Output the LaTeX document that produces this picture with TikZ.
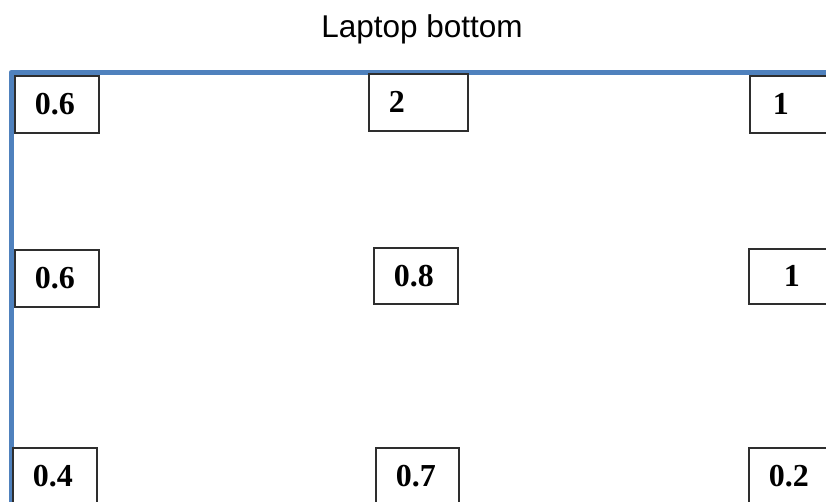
\documentclass[tikz,border=0pt]{standalone}
\usepackage{fontspec}
\setmainfont{Liberation Serif}
\newfontfamily\titlefont{Liberation Sans}
\definecolor{frameblue}{HTML}{4F81BD}
\definecolor{boxgray}{HTML}{2E2E2E}
\begin{document}
\begin{tikzpicture}[x=1pt,y=-1pt,
  numbox/.style={draw=boxgray, line width=1.6pt, fill=white, anchor=north west,
    inner xsep=20pt, inner ysep=0pt, minimum height=57pt, align=left,
    font=\fontsize{32}{32}\selectfont\bfseries},
  frame/.style={draw=frameblue, line width=5pt, line join=round, line cap=butt},
  titlestyle/.style={font=\titlefont\fontsize{31.5}{32}\selectfont, inner sep=0pt}]
\useasboundingbox (0,0) rectangle (826,502);
\clip (0,0) rectangle (826,502);
\fill[white] (0,0) rectangle (826,502);
\node[titlestyle] (title) at (422,29) {Laptop bottom};
\coordinate (fbl) at (11,510);
\coordinate (ftl) at (11,72.5);
\coordinate (ftr) at (840,72.5);
\draw[frame] (fbl) -- (ftl) -- (ftr);
% row 1
\node[numbox, text width=44pt] (a1) at (14,75) {0.6};
\node[numbox, text width=59pt] (a2) at (368,73) {2};
\node[numbox, text width=60pt, inner xsep=23pt] (a3) at (749,75) {1};
% row 2
\node[numbox, text width=44pt] (b1) at (14,249) {0.6};
\node[numbox, text width=44pt, minimum height=56pt] (b2) at (373,247) {0.8};
\node[numbox, text width=50pt, inner xsep=35pt, minimum height=55pt] (b3) at (748,248) {1};
% row 3
\node[numbox, text width=44pt] (c1) at (12,447) {0.4};
\node[numbox, text width=43pt] (c2) at (375,447) {0.7};
\node[numbox, text width=60pt] (c3) at (748,447) {0.2};
\end{tikzpicture}
\end{document}
